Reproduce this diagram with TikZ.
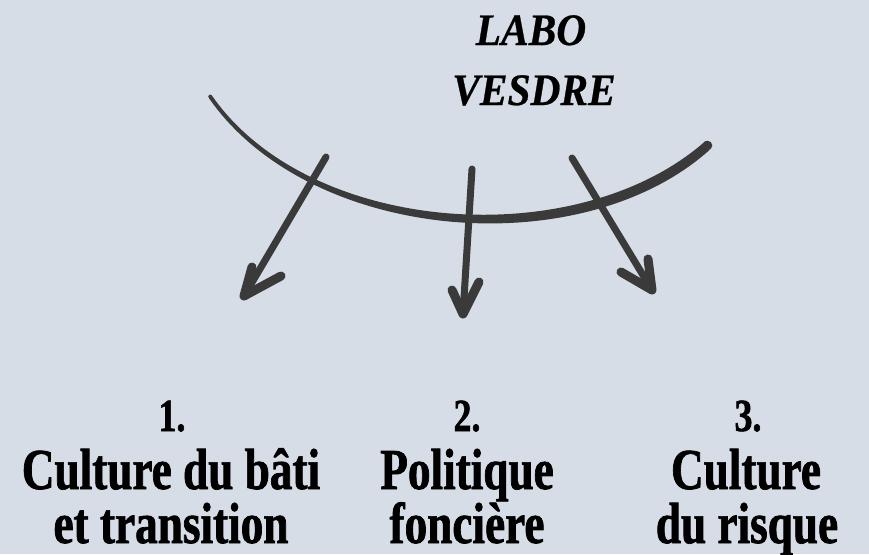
\documentclass[tikz,border=0pt]{standalone}
\usepackage{fontspec}
\setmainfont{Liberation Serif}
\newfontfamily\condfont{Liberation Serif}[FakeStretch=0.78,FakeBold=1.2]
\newfontfamily\titlefont{Liberation Serif}[FakeStretch=0.92,FakeBold=0.6]
\definecolor{bgcol}{RGB}{214,221,231}
\definecolor{ink}{RGB}{58,58,58}
\begin{document}
\begin{tikzpicture}[x=1pt,y=-1pt,
  shaft/.style={draw=ink,line width=7pt,line cap=round,line join=round},
  headstroke/.style={draw=ink,line width=9pt,line cap=round,line join=round},
  title/.style={anchor=base,inner sep=0pt,font=\titlefont\bfseries\itshape\fontsize{45}{48}\selectfont},
  numtxt/.style={anchor=base,inner sep=0pt,font=\condfont\bfseries\fontsize{46}{50}\selectfont},
  lbltxt/.style={anchor=base,inner sep=0pt,font=\condfont\bfseries\fontsize{58}{60}\selectfont}]
\fill[bgcol] (0,0) rectangle (869,554);
\useasboundingbox (0,0) rectangle (869,554);
% title
\node[title] (t1) at (531,45) {LABO};
\node[title] (t2) at (534,105) {VESDRE};
% curve (tapered, thicker at right)
\fill[ink] (211.5,95) .. controls (309,236) and (578,254) .. (705.5,141)
  -- (709.5,150) .. controls (581,265) and (309,243) .. (208.5,97.5) -- cycle;
\fill[ink] (210,96.2) circle (1.9);
\fill[ink] (707.5,145.5) circle (4.8);
% arrow 1
\coordinate (a1s) at (326,157);
\coordinate (a1t) at (244,296);
\coordinate (a1l) at (252,267);
\coordinate (a1r) at (281,276);
\draw[shaft] (a1s) -- (a1t);
\draw[headstroke] (a1l) -- (a1t) -- (a1r);
% arrow 2
\coordinate (a2s) at (472,169);
\coordinate (a2t) at (463,314);
\coordinate (a2l) at (452,290);
\coordinate (a2r) at (479,282);
\draw[shaft] (a2s) -- (a2t);
\draw[headstroke] (a2l) -- (a2t) -- (a2r);
% arrow 3
\coordinate (a3s) at (572,158);
\coordinate (a3t) at (652,290);
\coordinate (a3l) at (621,272);
\coordinate (a3r) at (648,259);
\draw[shaft] (a3s) -- (a3t);
\draw[headstroke] (a3l) -- (a3t) -- (a3r);
% labels
\node[numtxt] (n1) at (172,431) {1.};
\node[lbltxt] (l1a) at (171,489) {Culture du bâti};
\node[lbltxt] (l1b) at (171,543) {et transition};
\node[numtxt] (n2) at (467,431) {2.};
\node[lbltxt] (l2a) at (467,489) {Politique};
\node[lbltxt] (l2b) at (467,543) {foncière};
\node[numtxt] (n3) at (748,431) {3.};
\node[lbltxt] (l3a) at (746,489) {Culture};
\node[lbltxt] (l3b) at (747,543) {du risque};
\end{tikzpicture}
\end{document}
